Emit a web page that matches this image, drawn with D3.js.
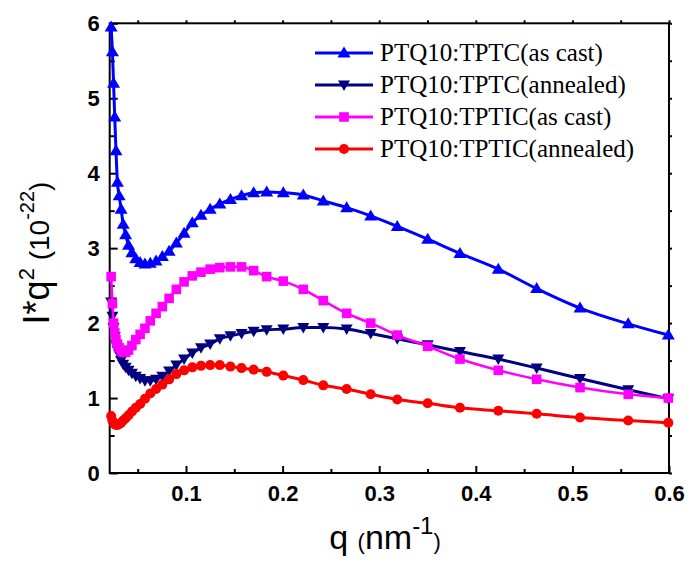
<!DOCTYPE html>
<html>
<head>
<meta charset="utf-8">
<script src="https://cdn.jsdelivr.net/npm/d3@7/dist/d3.min.js"></script>
<style>
  html, body { margin: 0; padding: 0; background: #fff; }
  svg { display: block; }
</style>
</head>
<body>
<svg id="chart" width="688" height="562"></svg>
<script>
// Scattering vector q (nm^-1), shared by all four curves
const q = [0.0225, 0.0238, 0.025, 0.0262, 0.0275, 0.029, 0.0308, 0.0328, 0.035, 0.0375,
  0.0405, 0.044, 0.048, 0.0525, 0.0575, 0.063, 0.069, 0.0755, 0.0825, 0.090,
  0.098, 0.1065, 0.1155, 0.125, 0.135, 0.146, 0.1575, 0.17, 0.1835, 0.2007,
  0.2214, 0.2421, 0.2663, 0.2912, 0.3187, 0.3502, 0.3836, 0.4233, 0.463, 0.5079,
  0.5578, 0.5993];

// Lorentz-corrected intensity I*q^2 (x 10^-22)
const tptcAsCast = [5.95, 5.62, 5.20, 4.75, 4.30, 3.88, 3.70, 3.52, 3.32, 3.18,
  3.04, 2.94, 2.86, 2.81, 2.79, 2.80, 2.83, 2.89, 2.96, 3.07,
  3.20, 3.34, 3.44, 3.52, 3.59, 3.65, 3.70, 3.74, 3.75, 3.74,
  3.71, 3.63, 3.54, 3.43, 3.29, 3.12, 2.93, 2.72, 2.46, 2.20,
  1.99, 1.84];
const tptcAnnealed = [2.28, 2.09, 1.94, 1.82, 1.71, 1.64, 1.58, 1.50, 1.45, 1.41,
  1.37, 1.33, 1.29, 1.26, 1.23, 1.23, 1.25, 1.29, 1.36, 1.44,
  1.52, 1.60, 1.67, 1.72, 1.79, 1.83, 1.86, 1.89, 1.91, 1.92,
  1.94, 1.94, 1.92, 1.86, 1.79, 1.71, 1.62, 1.52, 1.40, 1.26,
  1.11, 0.99];
const tpticAsCast = [2.62, 2.26, 2.00, 1.87, 1.78, 1.72, 1.67, 1.63, 1.61, 1.61,
  1.64, 1.70, 1.78, 1.85, 1.93, 2.03, 2.13, 2.22, 2.33, 2.45,
  2.55, 2.63, 2.68, 2.72, 2.74, 2.75, 2.75, 2.70, 2.62, 2.56,
  2.45, 2.30, 2.13, 2.00, 1.84, 1.69, 1.52, 1.37, 1.25, 1.14,
  1.05, 1.00];
const tpticAnnealed = [0.76, 0.70, 0.67, 0.65, 0.64, 0.64, 0.65, 0.67, 0.70, 0.73,
  0.77, 0.82, 0.87, 0.92, 0.99, 1.06, 1.12, 1.18, 1.25, 1.32,
  1.37, 1.41, 1.43, 1.44, 1.44, 1.42, 1.40, 1.38, 1.35, 1.30,
  1.24, 1.17, 1.12, 1.05, 0.98, 0.93, 0.87, 0.83, 0.79, 0.74,
  0.70, 0.67];

const seriesNames = ["PTQ10:TPTC(as cast)", "PTQ10:TPTC(annealed)",
  "PTQ10:TPTIC(as cast)", "PTQ10:TPTIC(annealed)"];
const seriesValues = [tptcAsCast, tptcAnnealed, tpticAsCast, tpticAnnealed];
const seriesColors = ["#0000ff", "#000080", "#ff00ff", "#ff0000"];
const seriesMarkers = ["triUp", "triDown", "square", "circle"];

const xMajorTicks = [0.1, 0.2, 0.3, 0.4, 0.5, 0.6];
const xMinorTicks = [0.05, 0.15, 0.25, 0.35, 0.45, 0.55];
const yMajorTicks = [0, 1, 2, 3, 4, 5, 6];
const yMinorTicks = [0.5, 1.5, 2.5, 3.5, 4.5, 5.5];

const svg = d3.select("#chart");
const plot = { left: 109.7, right: 669, top: 23.3, bottom: 473 };

const x = d3.scaleLinear().domain([0.021, 0.6]).range([plot.left, plot.right]);
const y = d3.scaleLinear().domain([0, 6]).range([plot.bottom, plot.top]);

const tickFont = "'Liberation Sans', Arial, sans-serif";

// Frame
svg.append("rect")
  .attr("x", plot.left).attr("y", plot.top)
  .attr("width", plot.right - plot.left).attr("height", plot.bottom - plot.top)
  .attr("fill", "none").attr("stroke", "#000").attr("stroke-width", 2);

function styleAxis(g) {
  g.select(".domain").remove();
  g.selectAll(".tick line").attr("stroke", "#000").attr("stroke-width", 2);
  g.selectAll(".tick text")
    .attr("fill", "#000")
    .style("font-family", tickFont)
    .style("font-weight", "bold")
    .style("font-size", "22px");
}

// Bottom axis: inward ticks with labels
svg.append("g").attr("transform", `translate(0,${plot.bottom})`)
  .call(d3.axisBottom(x).tickValues(xMajorTicks).tickSize(-7).tickPadding(12)
    .tickFormat(d3.format(".1f")))
  .call(styleAxis);
svg.append("g").attr("transform", `translate(0,${plot.bottom})`)
  .call(d3.axisBottom(x).tickValues(xMinorTicks).tickSize(-4).tickFormat(""))
  .call(styleAxis);

// Left axis
svg.append("g").attr("transform", `translate(${plot.left},0)`)
  .call(d3.axisLeft(y).tickValues(yMajorTicks).tickSize(-8).tickPadding(10)
    .tickFormat(d3.format("d")))
  .call(styleAxis);
svg.append("g").attr("transform", `translate(${plot.left},0)`)
  .call(d3.axisLeft(y).tickValues(yMinorTicks).tickSize(-5).tickFormat(""))
  .call(styleAxis);

// Top and right axes: short outward ticks only
svg.append("g").attr("transform", `translate(0,${plot.top})`)
  .call(d3.axisTop(x).tickValues(xMajorTicks.concat(xMinorTicks)).tickSize(3).tickFormat(""))
  .call(styleAxis);
svg.append("g").attr("transform", `translate(${plot.right},0)`)
  .call(d3.axisRight(y).tickValues(yMajorTicks.concat(yMinorTicks)).tickSize(3).tickFormat(""))
  .call(styleAxis);

// Marker shapes
function markerPath(kind) {
  switch (kind) {
    case "triUp": return "M0,-6.5L6.5,4.5L-6.5,4.5Z";
    case "triDown": return "M0,6L6,-4.5L-6,-4.5Z";
    case "square": return "M-4.8,-4.8H4.8V4.8H-4.8Z";
    default: return d3.symbol(d3.symbolCircle, 80)();
  }
}

const line = d3.line()
  .x(d => x(d[0]))
  .y(d => y(d[1]))
  .curve(d3.curveMonotoneX);

const lineWidths = [3, 3, 2.6, 3];

seriesValues.forEach((vals, i) => {
  const pts = q.map((qq, k) => [qq, vals[k]]);
  const g = svg.append("g");
  g.append("path")
    .attr("d", line(pts))
    .attr("fill", "none")
    .attr("stroke", seriesColors[i])
    .attr("stroke-width", lineWidths[i])
    .attr("stroke-linejoin", "round");
  g.selectAll("path.mk").data(pts).join("path")
    .attr("class", "mk")
    .attr("d", markerPath(seriesMarkers[i]))
    .attr("transform", d => `translate(${x(d[0])},${y(d[1])})`)
    .attr("fill", seriesColors[i]);
});

// Legend
const legend = svg.append("g");
const legendRows = [53, 85, 117, 149];
seriesNames.forEach((name, i) => {
  const row = legend.append("g").attr("transform", `translate(0,${legendRows[i]})`);
  row.append("line").attr("x1", 315).attr("x2", 373).attr("y1", 0).attr("y2", 0)
    .attr("stroke", seriesColors[i]).attr("stroke-width", 3);
  row.append("path").attr("d", markerPath(seriesMarkers[i]))
    .attr("transform", "translate(344,0)").attr("fill", seriesColors[i]);
  row.append("text").attr("x", 380).attr("y", 8)
    .style("font-family", "'Liberation Serif', 'Times New Roman', serif")
    .style("font-size", "25px")
    .attr("fill", "#000")
    .text(name);
});

// X axis title: q (nm^-1)
const xt = svg.append("text")
  .attr("x", 385).attr("y", 549)
  .attr("text-anchor", "middle")
  .style("font-family", tickFont)
  .attr("fill", "#000");
xt.append("tspan").style("font-size", "34px").text("q ");
xt.append("tspan").style("font-size", "22px").text("(");
xt.append("tspan").style("font-size", "34px").text("nm");
xt.append("tspan").style("font-size", "24px").attr("dy", -15).text("-1");
xt.append("tspan").style("font-size", "22px").attr("dy", 15).text(")");

// Y axis title: I*q^2 (10^-22)
const yt = svg.append("text")
  .attr("transform", "translate(49,253) rotate(-90)")
  .attr("text-anchor", "middle")
  .style("font-family", tickFont)
  .attr("fill", "#000");
yt.append("tspan").style("font-size", "36px").text("I*q");
yt.append("tspan").style("font-size", "22px").attr("dy", -15).text("2");
yt.append("tspan").style("font-size", "28px").attr("dy", 15).text(" (10");
yt.append("tspan").style("font-size", "20px").attr("dy", -15).text("-22");
yt.append("tspan").style("font-size", "28px").attr("dy", 15).text(")");
</script>
</body>
</html>
